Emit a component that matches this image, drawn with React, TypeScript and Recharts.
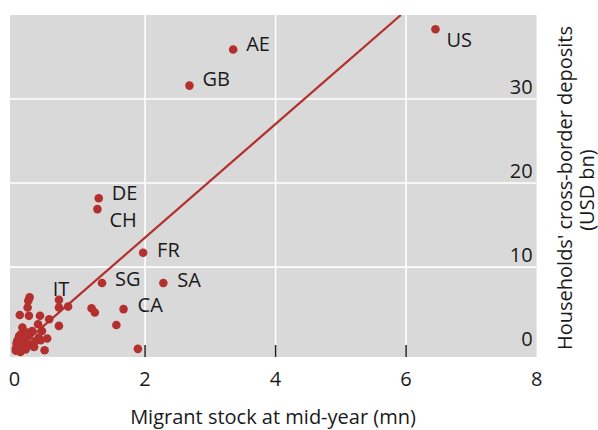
import React from 'react';
import { ScatterChart, Scatter, XAxis, YAxis, CartesianGrid, Label } from 'recharts';

// Labelled countries: migrant stock (mn) and households' cross-border deposits (USD bn)
const labeledCountries = ['US', 'AE', 'GB', 'DE', 'CH', 'FR', 'SG', 'SA', 'CA', 'IT'];
const labeledMigrants = [6.45, 3.35, 2.68, 1.29, 1.27, 1.97, 1.34, 2.28, 1.67, 0.68];
const labeledDeposits = [38.3, 35.9, 31.6, 18.2, 16.9, 11.7, 8.1, 8.1, 5.0, 6.1];

// Unlabelled countries
const otherMigrants = [
  0.23, 0.21, 0.2, 0.08, 0.22, 0.39, 0.68, 0.82, 0.53, 0.36, 0.68, 0.12, 0.27, 0.42,
  0.37, 0.4, 0.22, 0.07, 0.04, 0.14, 0.25, 0.32, 0.07, 0.17, 0.02, 0.09, 0.46, 1.18,
  1.23, 1.56, 1.89, 0.5, 0.29, 0.05, 0.1, 0.03, 0.12, 0.06, 0.15, 0.3, 0.1, 0.02, 0.08,
  0.19, 0.11,
];
const otherDeposits = [
  6.4, 6.0, 5.2, 4.3, 4.2, 4.2, 5.2, 5.3, 3.8, 3.2, 3.0, 2.8, 2.4, 2.4,
  1.6, 1.3, 1.8, 1.8, 1.2, 1.2, 0.8, 1.2, 0.4, 0.2, 0.05, -0.1, 0.1, 5.1,
  4.6, 3.1, 0.27, 1.5, 0.55, 0.6, 0.3, 0.9, 0.8, 1.5, 0.5, 0.5, 2.0, 0.3, 0.05,
  2.2, 1.0,
];

// Fitted line endpoints
const fitLineX = [0, 5.92];
const fitLineY = [0, 40];

const xTicks = [0, 2, 4, 6, 8];
const yTicks = [0, 10, 20, 30];
const xTitle = 'Migrant stock at mid-year (mn)';
const yTitleLines = ["Households' cross-border deposits", '(USD bn)'];

const labeledData = labeledCountries.map((name, i) => ({
  name,
  x: labeledMigrants[i],
  y: labeledDeposits[i],
}));
const otherData = otherMigrants.map((x, i) => ({ name: '', x, y: otherDeposits[i] }));
const lineData = fitLineX.map((x, i) => ({ x, y: fitLineY[i] }));

const RED = '#b3302e';
const FONT = "'Open Sans', 'Noto Sans', sans-serif";
const TEXT = '#1a1a1a';
const FS = 20;

const LABEL_OFFSETS: Record<string, [number, number, string]> = {
  US: [11, 10, 'start'],
  AE: [13, -6, 'start'],
  GB: [13, -7, 'start'],
  DE: [13, -6, 'start'],
  CH: [12, 10, 'start'],
  FR: [14, -3, 'start'],
  SG: [13, -5, 'start'],
  SA: [14, -4, 'start'],
  CA: [14, -5, 'start'],
  IT: [2, -11, 'middle'],
};

const Dot = (props: any) => {
  const { cx, cy, payload } = props;
  if (cx == null || cy == null) return null;
  const name = payload?.name;
  const off = name ? LABEL_OFFSETS[name] : null;
  return (
    <g>
      <circle cx={cx} cy={cy} r={4.3} fill={RED} />
      {off && (
        <text
          x={cx + off[0]}
          y={cy + off[1]}
          textAnchor={off[2] as any}
          dominantBaseline="central"
          fontFamily={FONT}
          fontSize={FS}
          fill={TEXT}
        >
          {name}
        </text>
      )}
    </g>
  );
};

const XTick = (props: any) => {
  const { x, y, payload } = props;
  const v = payload.value;
  return (
    <g>
      {v > 0 && v < 8 && <line x1={x} x2={x} y1={y - 12} y2={y} stroke="#222" strokeWidth={1.5} />}
      <text x={x} y={y + 21} textAnchor="middle" dominantBaseline="central" fontFamily={FONT} fontSize={FS} fill={TEXT}>
        {v}
      </text>
    </g>
  );
};

const YTick = (props: any) => {
  const { x, y, payload } = props;
  return (
    <text x={x - 4} y={y - 13} textAnchor="end" dominantBaseline="central" fontFamily={FONT} fontSize={FS} fill={TEXT}>
      {payload.value}
    </text>
  );
};

export default function App() {
  return (
    <div style={{ width: 598, height: 430, background: '#fff' }}>
      <style>{`body{margin:0}`}</style>
      <ScatterChart width={598} height={430} margin={{ top: 15, left: 10, right: 0, bottom: 43 }}>
        <CartesianGrid
          fill="#d9d9d9"
          stroke="#ffffff"
          strokeWidth={1.6}
          verticalValues={[2, 4, 6]}
          horizontalValues={[10, 20, 30]}
        />
        <XAxis
          type="number"
          dataKey="x"
          domain={[-0.07, 8]}
          ticks={xTicks}
          allowDataOverflow
          axisLine={false}
          tickLine={false}
          tickSize={0}
          tickMargin={0}
          height={30}
          tick={<XTick />}
        >
          <Label
            content={() => (
              <text x={273} y={416} textAnchor="middle" dominantBaseline="central" fontFamily={FONT} fontSize={FS} fill={TEXT}>
                {xTitle}
              </text>
            )}
          />
        </XAxis>
        <YAxis
          type="number"
          dataKey="y"
          orientation="right"
          domain={[-0.7, 40]}
          ticks={yTicks}
          allowDataOverflow
          axisLine={false}
          tickLine={false}
          tickSize={0}
          tickMargin={0}
          width={61.4}
          tick={<YTick />}
        >
          <Label
            content={() => (
              <g>
                <text
                  transform="translate(564,188) rotate(-90)"
                  textAnchor="middle"
                  dominantBaseline="central"
                  fontFamily={FONT}
                  fontSize={FS}
                  fill={TEXT}
                >
                  {yTitleLines[0]}
                </text>
                <text
                  transform="translate(586,190) rotate(-90)"
                  textAnchor="middle"
                  dominantBaseline="central"
                  fontFamily={FONT}
                  fontSize={FS}
                  fill={TEXT}
                >
                  {yTitleLines[1]}
                </text>
              </g>
            )}
          />
        </YAxis>
        <Scatter data={otherData} shape={<Dot />} isAnimationActive={false} />
        <Scatter
          data={lineData}
          line={{ stroke: RED, strokeWidth: 2.2 }}
          shape={() => null}
          isAnimationActive={false}
        />
        <Scatter data={labeledData} shape={<Dot />} isAnimationActive={false} />
      </ScatterChart>
    </div>
  );
}
